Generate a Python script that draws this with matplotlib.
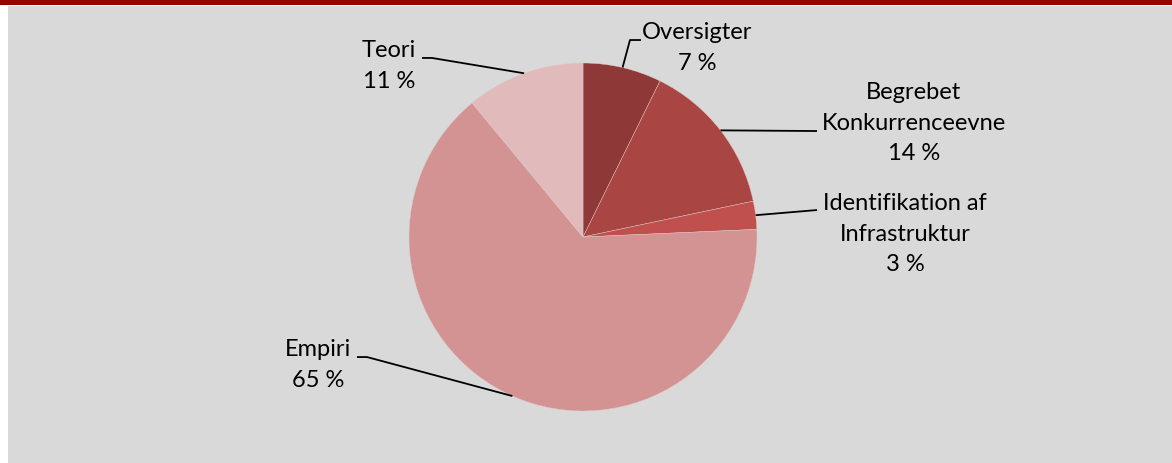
import numpy as np
import matplotlib.pyplot as plt
from matplotlib.patches import Rectangle

labels = ["Oversigter", "Begrebet\nKonkurrenceevne", "Identifikation af\nInfrastruktur", "Empiri", "Teori"]
values = [7.3, 14.4, 2.6, 64.7, 11.0]
shown = ["7 %", "14 %", "3 %", "65 %", "11 %"]
colors = ["#8E3937", "#A94644", "#C0504D", "#D39392", "#E1BBBB"]

# label layout in units of the pie radius: text centre, leader path (after the pie point)
text_pos = [(0.655, 1.086), (1.902, 0.655), (1.851, 0.017), (-1.523, -0.736), (-1.115, 0.983)]
leader = [[(0.270, 1.132), (0.333, 1.132)],
          [(1.345, 0.609)],
          [(1.345, 0.155)],
          [(-1.241, -0.690), (-1.299, -0.690)],
          [(-0.868, 1.029), (-0.925, 1.029)]]

plt.rcParams['font.family'] = ['Lato', 'DejaVu Sans']

W, H = 1172, 463
fig = plt.figure(figsize=(W / 100, H / 100), dpi=100)
fig.patch.set_facecolor("white")
fig.patches.append(Rectangle((8 / W, 0), 1 - 8 / W, (H - 6) / H, transform=fig.transFigure,
                             facecolor="#D9D9D9", edgecolor="none", zorder=-10))
fig.patches.append(Rectangle((0, (H - 5) / H), 1, 5 / H, transform=fig.transFigure,
                             facecolor="#990000", edgecolor="none", zorder=-10))

ax = fig.add_axes([0, 0, 1, 1])
ax.set_facecolor("none")
r = 174
cx, cy = 583, 237
wedges, _ = ax.pie(values, colors=colors, startangle=90, counterclock=False, radius=1,
                   wedgeprops=dict(edgecolor="#E3C8C8", linewidth=0.3))
ax.set_aspect("auto")
ax.set_xlim(-cx / r, (W - cx) / r)
ax.set_ylim((cy - H) / r, cy / r)
ax.axis("off")

for w, lab, pct, tp, path in zip(wedges, labels, shown, text_pos, leader):
    mid = np.deg2rad((w.theta1 + w.theta2) / 2)
    pts = [(np.cos(mid), np.sin(mid))] + path
    xs, ys = zip(*pts)
    ax.plot(xs, ys, color="black", lw=1.3, solid_capstyle="butt")
    ax.text(tp[0], tp[1], lab + "\n" + pct, ha="center", va="center", multialignment="center",
            fontsize=17, linespacing=1.55, color="black")

fig.savefig("out.png", dpi=100, facecolor=fig.get_facecolor())
